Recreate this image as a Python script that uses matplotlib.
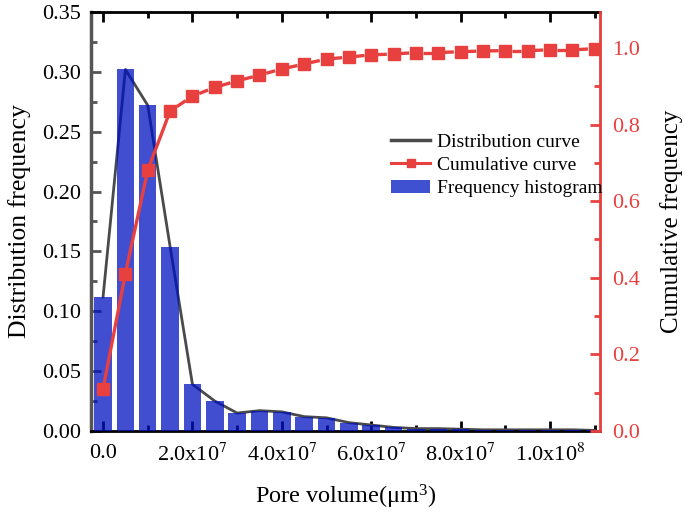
import numpy as np
import matplotlib.pyplot as plt
from matplotlib.patches import Patch
from matplotlib.lines import Line2D
from matplotlib.ticker import MultipleLocator, FixedLocator, FormatStrFormatter

plt.rcParams["font.family"] = ["Liberation Serif", "DejaVu Serif"]
plt.rcParams["mathtext.fontset"] = "stix"

# pore volume bins (um^3), one every 5e6
volume = np.arange(23) * 5e6
freq = [0.112, 0.302, 0.272, 0.154, 0.039, 0.025, 0.015, 0.017, 0.016, 0.012,
        0.011, 0.007, 0.005, 0.003, 0.002, 0.002, 0.0015, 0.001, 0.001, 0.001,
        0.001, 0.001, 0.0005]
cum = [0.110, 0.411, 0.681, 0.835, 0.874, 0.897, 0.914, 0.929, 0.945, 0.958,
       0.971, 0.976, 0.982, 0.984, 0.988, 0.988, 0.990, 0.992, 0.993, 0.993,
       0.995, 0.995, 0.998]
xtick_vals = [0, 2e7, 4e7, 6e7, 8e7, 1e8]
xtick_labels = ["0.0", r"2.0x10$^7$", r"4.0x10$^7$", r"6.0x10$^7$", r"8.0x10$^7$", r"1.0x10$^8$"]

RED = "#e8403f"
GREY = "#555555"

fig = plt.figure(figsize=(6.85, 5.17), dpi=100)
ax = fig.add_axes([91 / 685, 1 - 431 / 517, 509 / 685, 419 / 517])

ax.plot(volume, freq, color="#4a4a4a", lw=2.0, zorder=2)
ax.bar(volume, freq, width=3.9e6, color="#0010c0", alpha=0.74, zorder=3)

ax.set_xlim(-2.7e6, 1.112e8)
ax.set_ylim(0, 0.35)
ax.xaxis.set_major_locator(FixedLocator(xtick_vals))
ax.set_xticklabels(xtick_labels)
ax.xaxis.set_minor_locator(MultipleLocator(1e7))
ax.yaxis.set_major_locator(MultipleLocator(0.05))
ax.yaxis.set_minor_locator(MultipleLocator(0.025))
ax.yaxis.set_major_formatter(FormatStrFormatter("%.2f"))
ax.tick_params(axis="x", which="both", direction="in", top=True, width=2, labelsize=16, pad=9)
ax.tick_params(axis="x", which="major", length=7)
ax.tick_params(axis="x", which="minor", length=4)
ax.tick_params(axis="y", which="both", direction="in", color=GREY, width=2, labelsize=16, pad=7)
ax.tick_params(axis="y", which="major", length=7)
ax.tick_params(axis="y", which="minor", length=4)
ax.set_xlabel(r"Pore volume($\mathregular{\mu m^3}$)", fontsize=17.5, labelpad=12)
ax.set_ylabel("Distribution frequency", fontsize=18.5, labelpad=8)
for s in ["top", "bottom"]:
    ax.spines[s].set_linewidth(2)
ax.spines["left"].set_linewidth(2.5)
ax.spines["left"].set_color(GREY)

ax2 = ax.twinx()
# cumulative curve: solid on the steep start, one short dash between later markers
ax2.plot(volume[:4], cum[:4], color=RED, lw=2.4, zorder=4)
for i in range(3, len(cum) - 1):
    xs = [volume[i] + 0.3 * (volume[i + 1] - volume[i]), volume[i] + 0.7 * (volume[i + 1] - volume[i])]
    ys = [cum[i] + 0.3 * (cum[i + 1] - cum[i]), cum[i] + 0.7 * (cum[i + 1] - cum[i])]
    ax2.plot(xs, ys, color=RED, lw=2.4, solid_capstyle="butt", zorder=4)
ax2.plot(volume, cum, ls="none", marker="s", ms=8, color=RED, zorder=5)
ax2.set_ylim(0, 0.35 / 0.32)
ax2.yaxis.set_major_locator(MultipleLocator(0.2))
ax2.yaxis.set_minor_locator(MultipleLocator(0.1))
ax2.yaxis.set_major_formatter(FormatStrFormatter("%.1f"))
ax2.tick_params(axis="y", which="both", direction="in", color=RED, labelcolor=RED, width=2, labelsize=16, pad=9)
ax2.tick_params(axis="y", which="major", length=7)
ax2.tick_params(axis="y", which="minor", length=4)
ax2.set_ylabel("Cumulative frequency", fontsize=18, labelpad=14)
ax2.spines["right"].set_color(RED)
ax2.spines["right"].set_linewidth(2)
ax2.spines["left"].set_visible(False)
ax2.spines["top"].set_visible(False)
ax2.spines["bottom"].set_visible(False)

handles = [
    Line2D([], [], color="#4a4a4a", lw=2.5),
    Line2D([], [], color=RED, lw=2.2, marker="s", ms=6),
    Patch(facecolor="#3f51d0"),
]
labels = ["Distribution curve", "Cumulative curve", "Frequency histogram"]
ax2.legend(handles, labels, loc="upper left", bbox_to_anchor=(0.575, 0.73), frameon=False,
           fontsize=14, handlelength=2.0, handletextpad=0.35, labelspacing=0.3, borderaxespad=0)

fig.savefig("out.png", dpi=100)
